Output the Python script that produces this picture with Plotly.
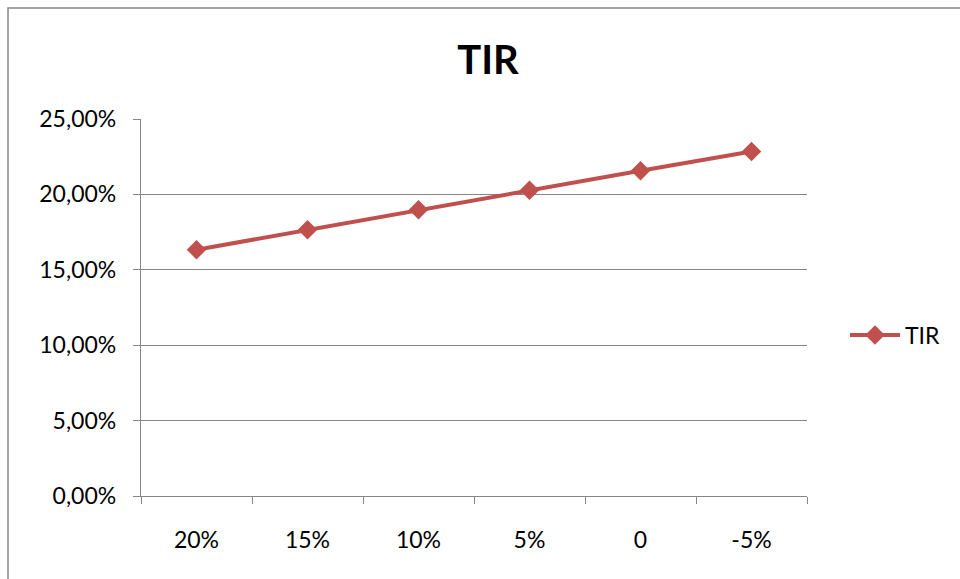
import plotly.graph_objects as go

# Sensitivity scenarios and resulting internal rate of return (TIR)
categories = ["20%", "15%", "10%", "5%", "0", "-5%"]
tir_values = [0.1633, 0.1765, 0.1898, 0.2027, 0.2157, 0.2285]
y_ticks = [0, 0.05, 0.10, 0.15, 0.20, 0.25]

LINE_COLOR = "#C0504D"
AXIS_COLOR = "#868686"
FONT = "Lato, 'Open Sans', sans-serif"

W, H = 960, 579
L, R, T, B = 141, 153, 119, 83
pw, ph = W - L - R, H - T - B

fig = go.Figure()
fig.add_trace(go.Scatter(
    x=categories, y=tir_values, name="TIR",
    mode="lines+markers",
    line=dict(color=LINE_COLOR, width=4),
    marker=dict(symbol="diamond", size=15, color=LINE_COLOR),
))

def px_to_paper_x(px):
    return (px - L) / pw

def px_to_paper_y(py):
    return (H - B - py) / ph

fig.update_layout(
    width=W, height=H,
    margin=dict(l=L, r=R, t=T, b=B),
    paper_bgcolor="white", plot_bgcolor="white",
    separators=",.",
    font=dict(family=FONT, size=23, color="#000000"),
    title=dict(text="<b>TIR</b>", font=dict(family=FONT, size=40, color="#000000"),
               x=488 / W, xref="container", xanchor="center",
               y=1 - 60 / H, yref="container", yanchor="middle"),
    showlegend=True,
    legend=dict(x=px_to_paper_x(845), y=px_to_paper_y(335), xanchor="left", yanchor="middle",
                font=dict(family=FONT, size=23), bgcolor="rgba(0,0,0,0)",
                itemwidth=50),
    xaxis=dict(
        type="category", showgrid=False, showline=True, linecolor=AXIS_COLOR, linewidth=1.3,
        ticks="outside", tickson="boundaries", ticklen=7, tickcolor=AXIS_COLOR, tickwidth=1.3,
        ticklabelstandoff=23, tickfont=dict(family=FONT, size=23),
        range=[-0.5, len(categories) - 0.5], fixedrange=True,
    ),
    yaxis=dict(
        range=[0, 0.25], tickvals=y_ticks, tickformat=".2%",
        showgrid=True, gridcolor=AXIS_COLOR, gridwidth=1.3,
        showline=True, linecolor=AXIS_COLOR, linewidth=1.3,
        ticks="outside", ticklen=7, tickcolor=AXIS_COLOR, tickwidth=1.3,
        ticklabelstandoff=12, tickfont=dict(family=FONT, size=23),
        zeroline=False, fixedrange=True,
    ),
    shapes=[dict(
        type="rect", xref="paper", yref="paper",
        x0=px_to_paper_x(8), x1=px_to_paper_x(975),
        y0=px_to_paper_y(600), y1=px_to_paper_y(8),
        line=dict(color=AXIS_COLOR, width=1.5), fillcolor="rgba(0,0,0,0)", layer="below",
    )],
)

fig.write_html("out.html")
